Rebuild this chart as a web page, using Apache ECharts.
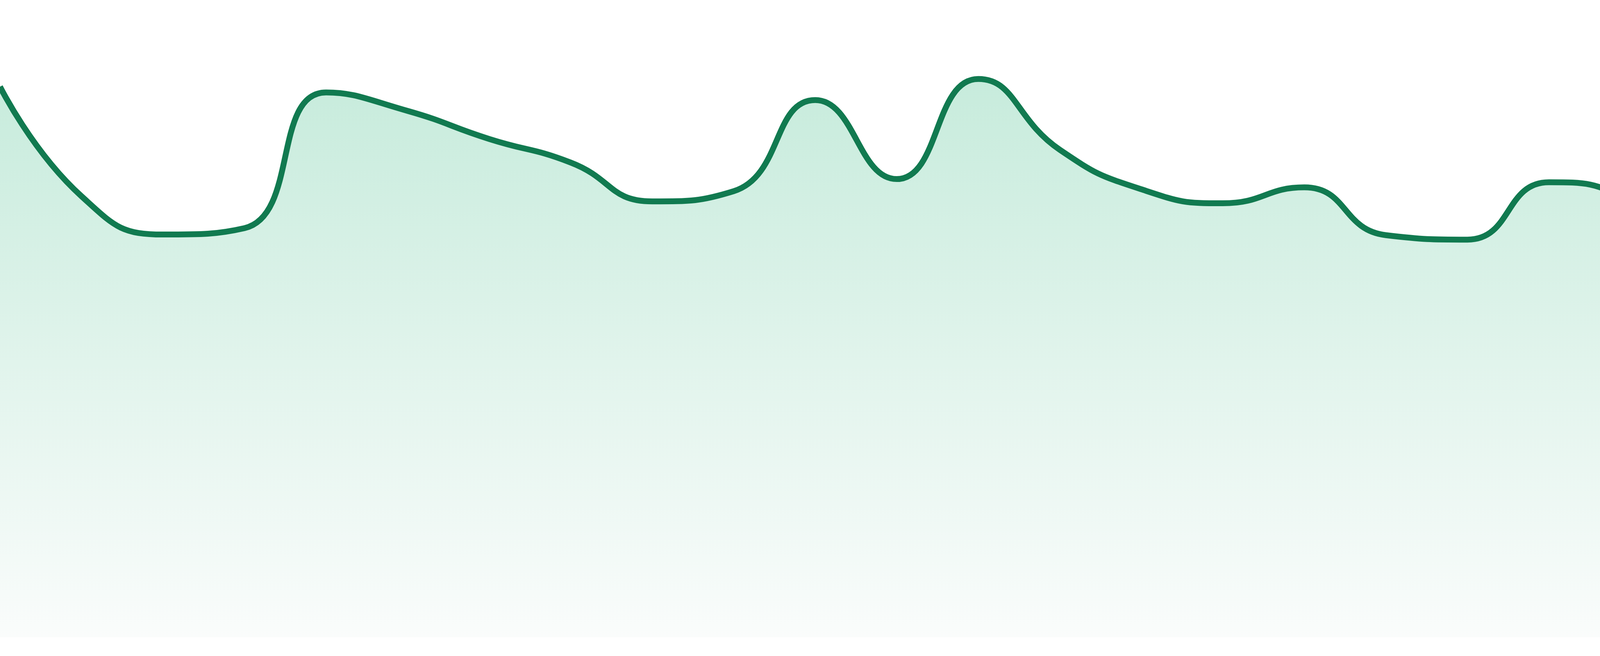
<!DOCTYPE html>
<html>
<head>
<meta charset="utf-8">
<script src="https://cdn.jsdelivr.net/npm/echarts@6/dist/echarts.min.js"></script>
<style>
  html, body { margin: 0; padding: 0; background: #ffffff; }
  #chart { width: 4800px; height: 1680px; }
</style>
</head>
<body>
<div id="chart"></div>
<script>
const categories = ['1','2','3','4','5','6','7','8','9','10','11','12','13','14','15','16','17','18','19','20','21','22','23','24'];
const values = [86.4, 69.2, 63.2, 64.2, 85.5, 82.6, 78.2, 74.5, 68.4, 70.0, 84.3, 71.9, 87.6, 76.5, 70.3, 68.1, 70.6, 63.1, 62.4, 71.4, 68.4, 56.9, 47.6, 42.2];
const yMin = 0;
const yMax = 100;

const chart = echarts.init(document.getElementById('chart'), null, { renderer: 'canvas' });
chart.setOption({
  animation: false,
  backgroundColor: '#ffffff',
  grid: { left: 0, right: 0, top: 0, bottom: 48, containLabel: false },
  xAxis: {
    type: 'category',
    data: categories,
    boundaryGap: false,
    show: false
  },
  yAxis: {
    type: 'value',
    min: yMin,
    max: yMax,
    show: false,
    splitLine: { show: false }
  },
  series: [{
    type: 'line',
    data: values,
    smooth: true,
    symbol: 'none',
    lineStyle: { color: '#117a50', width: 15 },
    itemStyle: { color: '#117a50' },
    areaStyle: {
      color: {
        type: 'linear', x: 0, y: 0, x2: 0, y2: 1,
        colorStops: [
          { offset: 0, color: '#afe3cd' },
          { offset: 1, color: '#f8fbfa' }
        ]
      }
    }
  }]
});
</script>
</body>
</html>
